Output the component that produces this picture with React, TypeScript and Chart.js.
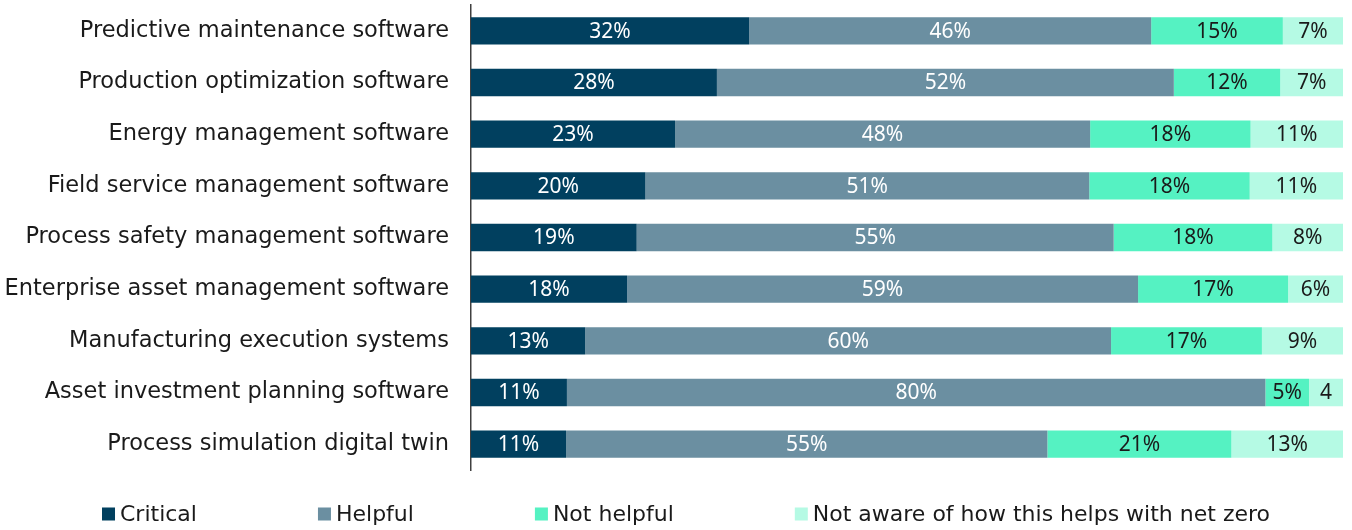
import React, { useEffect, useRef } from "react";
import { Chart, registerables } from "chart.js";

Chart.register(...registerables);

const categories = [
  "Predictive maintenance software",
  "Production optimization software",
  "Energy management software",
  "Field service management software",
  "Process safety management software",
  "Enterprise asset management software",
  "Manufacturing execution systems",
  "Asset investment planning software",
  "Process simulation digital twin",
];

const seriesNames = [
  "Critical",
  "Helpful",
  "Not helpful",
  "Not aware of how this helps with net zero",
];

const critical = [31.9, 28.2, 23.4, 20.0, 19.0, 17.9, 13.1, 11.0, 10.9];
const helpful = [46.1, 52.4, 47.6, 50.9, 54.7, 58.6, 60.3, 80.1, 55.2];
const notHelpful = [15.1, 12.2, 18.4, 18.4, 18.2, 17.2, 17.3, 5.0, 21.1];
const notAware = [6.9, 7.2, 10.6, 10.7, 8.1, 6.3, 9.3, 3.9, 12.8];

const colors = ["#01405F", "#6B8FA1", "#55F2C2", "#B5FAE4"];
const labelColors = ["#FFFFFF", "#FFFFFF", "#1A1A1A", "#1A1A1A"];

const FONT = "'DejaVu Sans', sans-serif";
const LABEL_FONT = "'Noto Sans', 'DejaVu Sans', sans-serif";

const barLabelPlugin = {
  id: "barLabels",
  afterDatasetsDraw(chart: any) {
    const ctx = chart.ctx;
    ctx.save();
    ctx.font = `21px ${LABEL_FONT}`;
    ctx.textAlign = "center";
    ctx.textBaseline = "middle";
    chart.data.datasets.forEach((ds: any, di: number) => {
      const meta = chart.getDatasetMeta(di);
      meta.data.forEach((bar: any, i: number) => {
        const v = ds.data[i];
        const w = Math.abs(bar.x - bar.base);
        let txt = Math.round(v) + "%";
        if (ctx.measureText(txt).width + 10 > w) txt = String(Math.round(v));
        ctx.fillStyle = labelColors[di];
        ctx.fillText(txt, (bar.x + bar.base) / 2, bar.y + 1);
      });
    });
    ctx.restore();
  },
};

const legendPlugin = {
  id: "customLegend",
  afterDraw(chart: any) {
    const ctx = chart.ctx;
    ctx.save();
    ctx.font = `22px ${FONT}`;
    ctx.textBaseline = "middle";
    const box = 13;
    const boxGap = 5;
    const itemGap = 121;
    const items = chart.data.datasets.map((ds: any) => ({
      text: ds.label,
      color: ds.backgroundColor,
      w: box + boxGap + ctx.measureText(ds.label).width,
    }));
    const total =
      items.reduce((s: number, it: any) => s + it.w, 0) + itemGap * (items.length - 1);
    let x = 686 - total / 2;
    const y = 514;
    items.forEach((it: any) => {
      ctx.fillStyle = it.color;
      ctx.fillRect(x, y - box / 2, box, box);
      ctx.fillStyle = "#1A1A1A";
      ctx.fillText(it.text, x + box + boxGap, y + 1);
      x += it.w + itemGap;
    });
    ctx.restore();
  },
};

export default function App() {
  const ref = useRef<HTMLCanvasElement | null>(null);

  useEffect(() => {
    document.body.style.margin = "0";
    if (!ref.current) return;
    const values = [critical, helpful, notHelpful, notAware];
    const chart = new Chart(ref.current, {
      type: "bar",
      data: {
        labels: categories,
        datasets: seriesNames.map((name, i) => ({
          label: name,
          data: values[i],
          backgroundColor: colors[i],
          borderWidth: 0,
          barPercentage: 0.53,
          categoryPercentage: 1,
        })),
      },
      options: {
        indexAxis: "y",
        animation: false,
        responsive: false,
        maintainAspectRatio: false,
        layout: { padding: { top: 5, bottom: 60, left: 0, right: 9 } },
        plugins: {
          legend: { display: false },
          tooltip: { enabled: false },
        },
        scales: {
          x: {
            stacked: true,
            min: 0,
            max: 100,
            display: false,
          },
          y: {
            stacked: true,
            grid: { display: false, drawTicks: false },
            border: { display: true, color: "#404040", width: 1.5 },
            ticks: {
              padding: 22,
              color: "#1A1A1A",
              font: { family: FONT, size: 22.5 },
            },
            afterFit(scale: any) {
              scale.width = 471;
              scale.paddingTop = 0;
              scale.paddingBottom = 0;
            },
          },
        },
      },
      plugins: [barLabelPlugin, legendPlugin],
    });
    return () => chart.destroy();
  }, []);

  return (
    <div style={{ width: 1352, height: 530 }}>
      <canvas ref={ref} width={1352} height={530} style={{ display: "block" }} />
    </div>
  );
}
